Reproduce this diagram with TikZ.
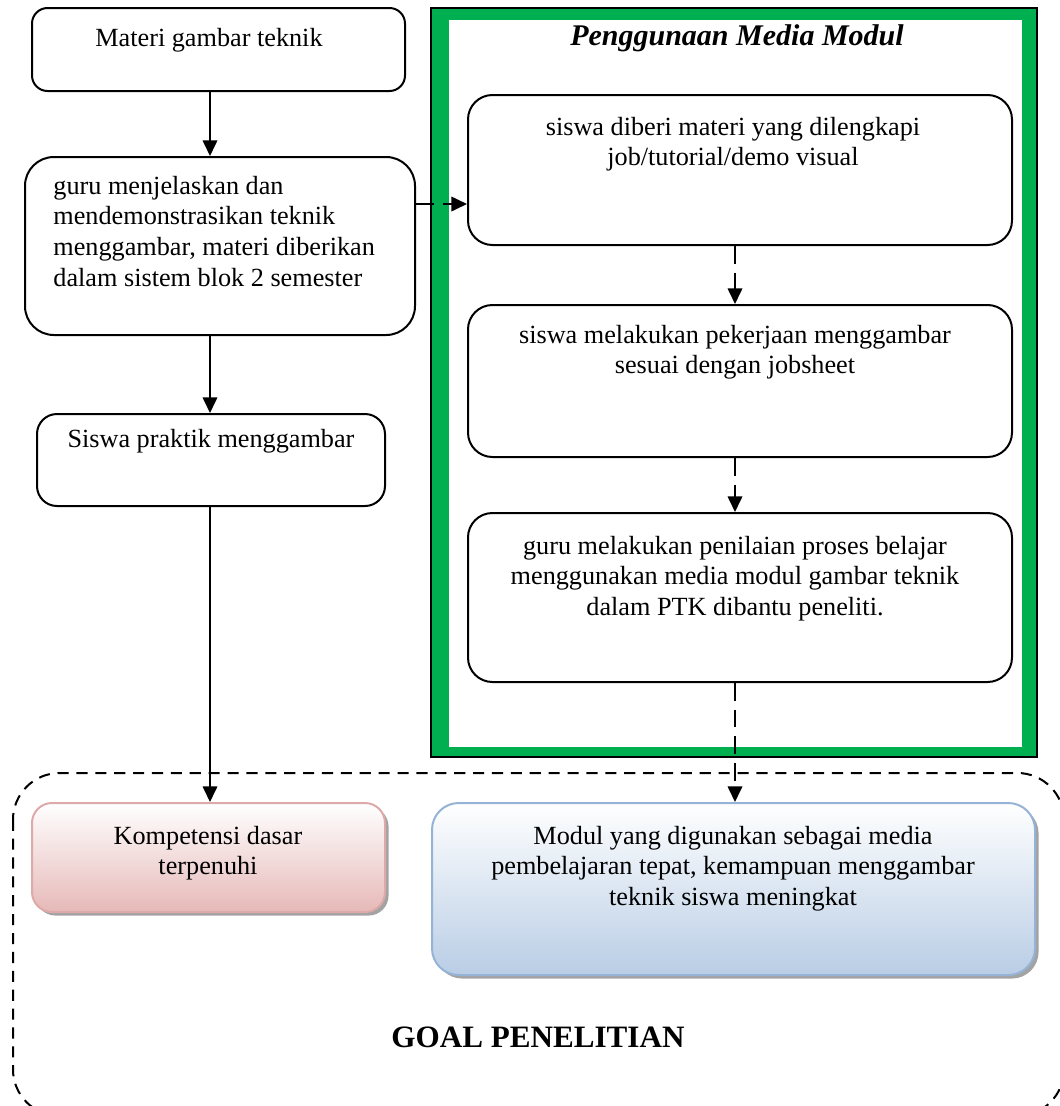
\documentclass[tikz,border=0pt]{standalone}
\usepackage{fontspec}
\setmainfont{Liberation Serif}
\usetikzlibrary{arrows.meta,shadows}
\newdimen\pxu \pxu=0.45pt
\definecolor{framegreen}{HTML}{00B050}
\definecolor{pinkbot}{HTML}{E6B9B8}
\definecolor{pinkline}{HTML}{DDAAA9}
\definecolor{bluebot}{HTML}{B9CDE5}
\definecolor{blueline}{HTML}{95B3D7}
\begin{document}
\begin{tikzpicture}[x=0.45pt,y=-0.45pt,
  box/.style={draw=black,line width=0.9pt,inner sep=0pt,fill=white},
  txt/.style={inner sep=0pt,anchor=base,font=\fontsize{11.8}{13.9}\selectfont,align=flush center,text width=560\pxu},
  solidarrow/.style={line width=0.9pt,-{Triangle[length=7pt,width=6.5pt]}},
  dasharrow/.style={line width=0.9pt,dash pattern=on 8pt off 4pt,-{Triangle[length=7pt,width=6.5pt]}},
  goalbox/.style={line width=0.9pt,dash pattern=on 5pt off 3.5pt},
  pinkbox/.style={draw=pinkline,line width=0.9pt,top color=white,bottom color=pinkbot,inner sep=0pt,
    drop shadow={shadow xshift=1.6pt,shadow yshift=-1.6pt,fill=black!45,opacity=0.8}},
  bluebox/.style={draw=blueline,line width=0.9pt,top color=white,bottom color=bluebot,inner sep=0pt,
    drop shadow={shadow xshift=1.6pt,shadow yshift=-1.6pt,fill=black!45,opacity=0.8}}
]
\useasboundingbox[fill=white] (0,0) rectangle (1060,1106);

% goal region (dashed)
\begin{scope}
\clip (0,0) rectangle (1060,1106);
\draw[goalbox,rounded corners=21pt] (13,773) rectangle (1064,1116);
\end{scope}

% green frame
\draw[fill=framegreen,draw=black,line width=0.8pt] (431,8) rectangle (1037,757);
\fill[white] (449,20) rectangle (1022,747);

% column coordinates
\coordinate (colL) at (210,0);
\coordinate (colR) at (735,0);
\coordinate (rowA) at (0,204);

% left boxes
\node[box,rounded corners=7pt,minimum width=373\pxu,minimum height=83\pxu] (b1) at (218.5,49.5) {};
\node[box,rounded corners=13pt,minimum width=390\pxu,minimum height=178\pxu] (b2) at (220,246) {};
\node[box,rounded corners=9pt,minimum width=348\pxu,minimum height=92\pxu] (b3) at (211,460) {};

% right boxes
\node[box,rounded corners=11pt,minimum width=544\pxu,minimum height=150\pxu] (bA) at (740,170) {};
\node[box,rounded corners=11pt,minimum width=544\pxu,minimum height=152\pxu] (bB) at (740,381) {};
\node[box,rounded corners=11pt,minimum width=544\pxu,minimum height=169\pxu] (bC) at (740,597.5) {};

% bottom boxes
\node[pinkbox,rounded corners=9pt,minimum width=353\pxu,minimum height=109\pxu] (bK) at (208.5,857.5) {};
\node[bluebox,rounded corners=12pt,minimum width=603\pxu,minimum height=172\pxu] (bM) at (733.5,889) {};

% texts
\node[txt,text width=350\pxu] (t1) at (209,46) {Materi gambar teknik};
\node[txt,align=flush left,text width=350\pxu,anchor=base west] (t2) at (53,194)
  {guru menjelaskan dan\\mendemonstrasikan teknik\\menggambar, materi diberikan\\dalam sistem blok 2 semester};
\node[txt,text width=340\pxu] (t3) at (211,447) {Siswa praktik menggambar};
\node[txt,font=\fontsize{13.5}{15}\selectfont\bfseries\itshape] (title) at (737,45) {Penggunaan Media Modul};
\node[txt] (tA) at (733,135) {siswa diberi materi yang dilengkapi\\job/tutorial/demo visual};
\node[txt] (tB) at (735,343) {siswa melakukan pekerjaan menggambar\\sesuai dengan jobsheet};
\node[txt] (tC) at (735,554) {guru melakukan penilaian proses belajar\\menggunakan media modul gambar teknik\\dalam PTK dibantu peneliti.};
\node[txt,text width=340\pxu] (tK) at (208,844) {Kompetensi dasar\\terpenuhi};
\node[txt] (tM) at (733,844) {Modul yang digunakan sebagai media\\pembelajaran tepat, kemampuan menggambar\\teknik siswa meningkat};
\node[txt,font=\fontsize{14}{16}\selectfont\bfseries] (goal) at (538,1047) {GOAL PENELITIAN};

% connectors
\draw[solidarrow] (b1.south -| colL) -- (b2.north -| colL);
\draw[solidarrow] (b2.south -| colL) -- (b3.north -| colL);
\draw[solidarrow] (b3.south -| colL) -- (bK.north -| colL);
\draw[dasharrow] (b2.east |- rowA) -- (bA.west |- rowA);
\draw[dasharrow] (bA.south -| colR) -- (bB.north -| colR);
\draw[dasharrow] (bB.south -| colR) -- (bC.north -| colR);
\draw[dasharrow] (bC.south -| colR) -- (bM.north -| colR);
\end{tikzpicture}
\end{document}
